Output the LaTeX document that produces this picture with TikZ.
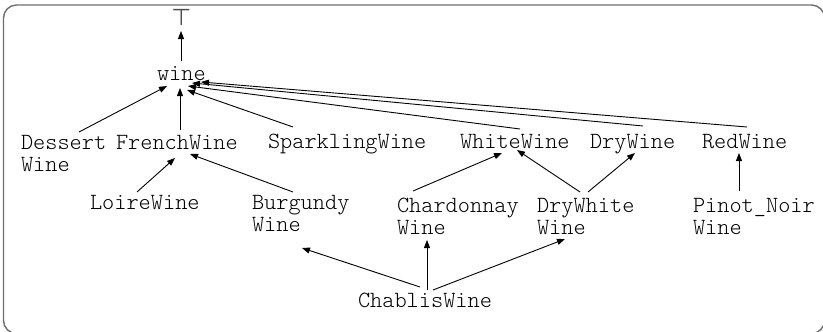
\documentclass[tikz,border=0pt]{standalone}
\usepackage{fontspec}
\newfontfamily\cour{Latin Modern Mono Light}
\newfontfamily\djv{DejaVu Sans}
\usetikzlibrary{arrows.meta}
\definecolor{framegray}{RGB}{110,110,110}
\tikzset{
  lbl/.style={anchor=base west, inner sep=0pt, outer sep=0pt, align=left,
    font=\cour\fontsize{23.2}{22}\selectfont},
  edge/.style={draw=black, line width=0.9pt, -{Triangle[length=8pt,width=6pt]}},
  frame/.style={draw=framegray, line width=1.4pt, rounded corners=13pt}
}
\begin{document}
\begin{tikzpicture}[x=1pt,y=1pt]
\useasboundingbox (0,0) rectangle (823,-332);
\draw[frame] (3.5,-5) rectangle (824.5,-333.5);
% nodes
\node[inner sep=0pt, outer sep=0pt, text=black!70, font=\djv\fontsize{23}{23}\selectfont] (top) at (181.5,-17.5) {⊤};
\node[lbl] (wine) at (157,-80) {wine};
\node[lbl] (dessert) at (21,-171) {Dessert\\Wine};
\node[lbl] (french) at (116,-149) {FrenchWine};
\node[lbl] (sparkling) at (268,-148) {SparklingWine};
\node[lbl] (white) at (460,-148) {WhiteWine};
\node[lbl] (dry) at (590,-148) {DryWine};
\node[lbl] (red) at (702,-148) {RedWine};
\node[lbl] (loire) at (90,-209) {LoireWine};
\node[lbl] (burgundy) at (252,-231) {Burgundy\\Wine};
\node[lbl] (chardonnay) at (397,-234) {Chardonnay\\Wine};
\node[lbl] (drywhite) at (537,-234) {DryWhite\\Wine};
\node[lbl] (pinot) at (693,-234) {Pinot\_Noir\\Wine};
\node[lbl] (chablis) at (358,-307) {ChablisWine};
% edges
\draw[edge] ([shift={(24,19)}]wine.base west) -- ([shift={(-0.5,-13.5)}]top.center);
\draw[edge] ([shift={(58,39)}]dessert.base west) -- ([shift={(10,-6)}]wine.base west);
\draw[edge] ([shift={(64,19)}]french.base west) -- ([shift={(23,-8)}]wine.base west);
\draw[edge] ([shift={(25,21)}]sparkling.base west) -- ([shift={(30,-10)}]wine.base west);
\draw[edge] ([shift={(60,19)}]white.base west) -- ([shift={(31,-6)}]wine.base west);
\draw[edge] ([shift={(53,22)}]dry.base west) -- ([shift={(35,-3)}]wine.base west);
\draw[edge] ([shift={(45,21)}]red.base west) -- ([shift={(44,-2)}]wine.base west);
\draw[edge] ([shift={(47,17)}]loire.base west) -- ([shift={(59,-9)}]french.base west);
\draw[edge] ([shift={(41,39)}]burgundy.base west) -- ([shift={(74,-5)}]french.base west);
\draw[edge] ([shift={(16,43)}]chardonnay.base west) -- ([shift={(42,-5)}]white.base west);
\draw[edge] ([shift={(43,42)}]drywhite.base west) -- ([shift={(57,-2)}]white.base west);
\draw[edge] ([shift={(51,42)}]drywhite.base west) -- ([shift={(45,-5)}]dry.base west);
\draw[edge] ([shift={(46,43)}]pinot.base west) -- ([shift={(37,-5)}]red.base west);
\draw[edge] ([shift={(62,20)}]chablis.base west) -- ([shift={(50,-17)}]burgundy.base west);
\draw[edge] ([shift={(69,17)}]chablis.base west) -- ([shift={(30,-6)}]chardonnay.base west);
\draw[edge] ([shift={(75,17)}]chablis.base west) -- ([shift={(28,-5)}]drywhite.base west);
\end{tikzpicture}
\end{document}
